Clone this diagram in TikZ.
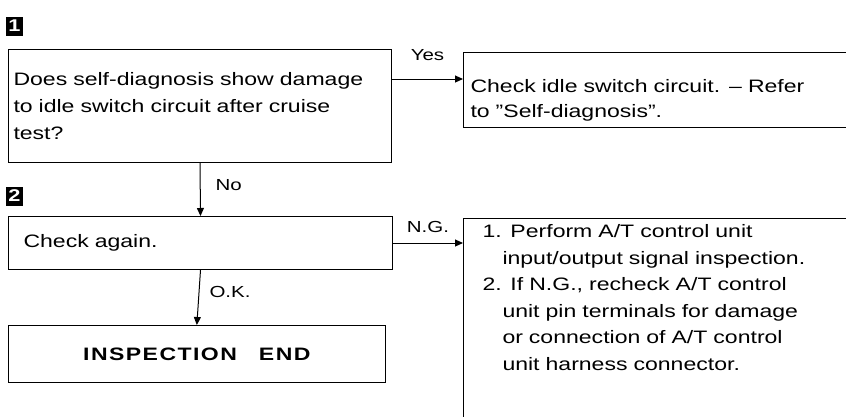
\documentclass[tikz,border=0pt]{standalone}
\usepackage{fontspec}
\newfontfamily\manualfont{Liberation Sans}[FakeStretch=1.28,Ligatures=TeX]
\usetikzlibrary{arrows.meta,positioning}

\begin{document}
\begin{tikzpicture}[
  x=1pt,y=1pt,
  >={Triangle[length=8pt,width=7pt]},
  stepbox/.style={draw,line width=1pt,anchor=north west,align=left,
    font=\manualfont\fontsize{18}{27}\selectfont},
  tag/.style={fill=black,text=white,inner sep=0pt,minimum width=17pt,
    minimum height=19pt,font=\manualfont\bfseries\fontsize{17}{17}\selectfont},
  flow/.style={->,line width=1pt},
  answer/.style={font=\manualfont\fontsize{16}{16}\selectfont,inner sep=1pt}
]
  \useasboundingbox (0,0) rectangle (846,-416);
  \clip (0,0) rectangle (846,-416);

  % step 1
  \node[tag] (tag1) at (14.5,-26) {1};
  \node[stepbox,inner xsep=5pt,text width=373pt,minimum height=113pt] (diag) at (8,-49)
    {Does self-diagnosis show damage\\to idle switch circuit after cruise\\test?};
  \node[stepbox,inner xsep=7pt,inner ysep=6pt,text width=420pt,
    font=\manualfont\fontsize{18}{25}\selectfont] (refer) at (463,-52)
    {\rule{0pt}{34pt}Check idle switch circuit. -- Refer\\to ''Self-diagnosis''.};

  % step 2
  \node[tag] (tag2) at (14.5,-196) {2};
  \node[stepbox,below=53pt of diag.south west,anchor=north west,inner xsep=15pt,
    text width=354pt,minimum height=53pt] (check) {Check again.};
  \node[stepbox,below=55pt of check.south west,anchor=north west,align=center,
    text width=370pt,minimum height=57pt,
    font=\manualfont\bfseries\fontsize{18}{20}\selectfont\addfontfeature{LetterSpace=8}]
    (endbox) {INSPECTION\hspace{22pt}END};
  \node[stepbox,inner xsep=19pt,inner ysep=6pt,text width=400pt,
    font=\manualfont\fontsize{18}{26.6}\selectfont] (fix) at (463,-218)
    {\makebox[28pt][l]{1.}Perform A/T control unit\\
     \hspace*{20pt}input/output signal inspection.\\
     \makebox[28pt][l]{2.}If N.G., recheck A/T control\\
     \hspace*{20pt}unit pin terminals for damage\\
     \hspace*{20pt}or connection of A/T control\\
     \hspace*{20pt}unit harness connector.\rule[-80pt]{0pt}{0pt}};

  % connectors
  \coordinate (yesin) at ([yshift=-27pt]refer.north west);
  \draw[flow] (diag.east |- yesin) -- node[answer,above=17pt] {Yes} (yesin);
  \draw[flow] (diag.south) -- node[answer,right=14pt,pos=.42] {No} (check.north);
  \draw[flow] (check.east) -- node[answer,above=9pt] {N.G.} (check.east -| fix.west);
  \draw[flow] (check.south) -- node[answer,right=9pt,pos=.4] {O.K.} (endbox.north);
\end{tikzpicture}
\end{document}
